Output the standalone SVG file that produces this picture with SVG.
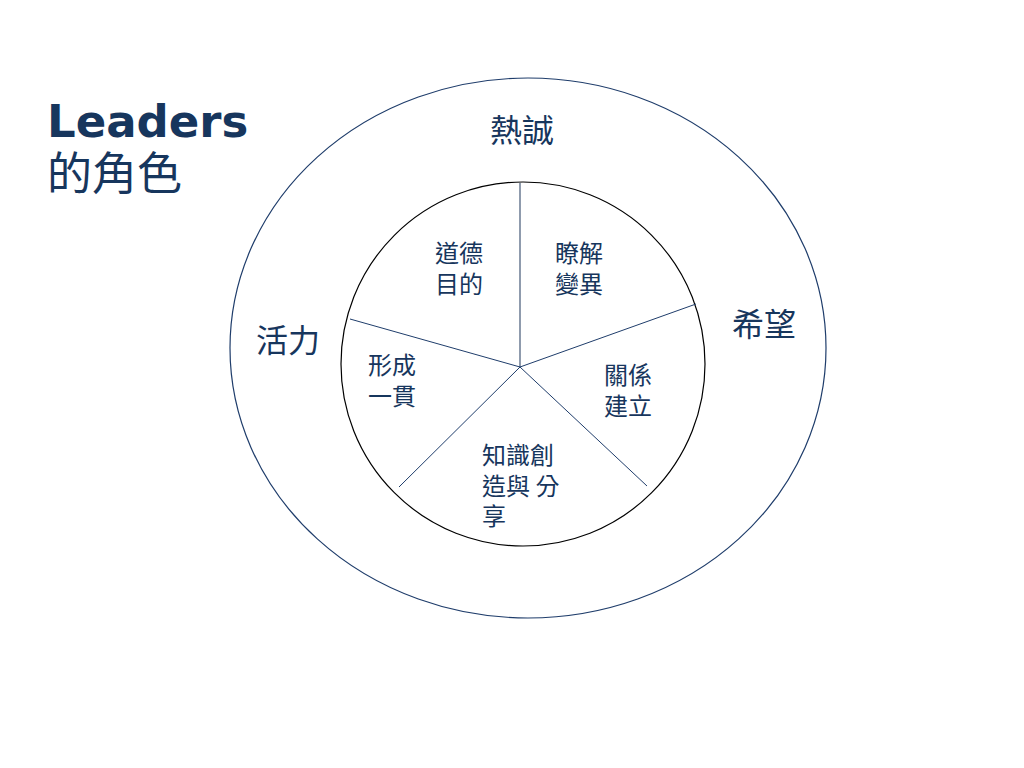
<svg xmlns="http://www.w3.org/2000/svg" width="1024" height="768" viewBox="0 0 1024 768">
<style>
.t{font-family:"Noto Sans CJK TC","Noto Sans CJK SC",sans-serif;fill:#17365D}
.in{font-size:24px}
.out{font-size:32px}
.ln{stroke:#1F3D6B;stroke-width:1;fill:none}
</style>
<rect width="1024" height="768" fill="#fff"/>
<g id="title">
<text fill="#17365D"><tspan x="47" y="137" font-family="DejaVu Sans, Verdana, sans-serif" font-weight="bold" font-size="45">Leaders</tspan><tspan x="47" y="190" font-family="Noto Sans CJK TC, Noto Sans CJK SC, sans-serif" font-size="45">的角色</tspan></text>
</g>
<g id="outer">
<ellipse cx="528" cy="348" rx="298" ry="270" fill="none" stroke="#1F3D6B" stroke-width="1.2"/>
<text class="t out" x="490" y="142">熱誠</text>
<text class="t out" x="732" y="336">希望</text>
<text class="t out" x="256" y="352">活力</text>
</g>
<g id="inner">
<circle cx="523" cy="364" r="182" fill="none" stroke="#000" stroke-width="1.2"/>
</g>
<g id="connectors">
<line x1="520" y1="183" x2="520" y2="367" stroke="#6A7A92" stroke-width="1.5"/>
<line class="ln" x1="520" y1="367" x2="696" y2="304"/>
<line class="ln" x1="520" y1="367" x2="350" y2="319"/>
<line class="ln" x1="520" y1="367" x2="399" y2="487"/>
<line class="ln" x1="520" y1="367" x2="647" y2="486"/>
</g>
<g id="seg1"><text class="t in"><tspan x="435" y="262">道德</tspan><tspan x="435" y="293">目的</tspan></text></g>
<g id="seg2"><text class="t in"><tspan x="555" y="262">瞭解</tspan><tspan x="555" y="293">變異</tspan></text></g>
<g id="seg3"><text class="t in"><tspan x="604" y="384">關係</tspan><tspan x="604" y="415">建立</tspan></text></g>
<g id="seg4"><text class="t in" xml:space="preserve"><tspan x="482" y="464">知識創</tspan><tspan x="482" y="495">造與 分</tspan><tspan x="482" y="525">享</tspan></text></g>
<g id="seg5"><text class="t in"><tspan x="368" y="374">形成</tspan><tspan x="368" y="405">一貫</tspan></text></g>
</svg>
